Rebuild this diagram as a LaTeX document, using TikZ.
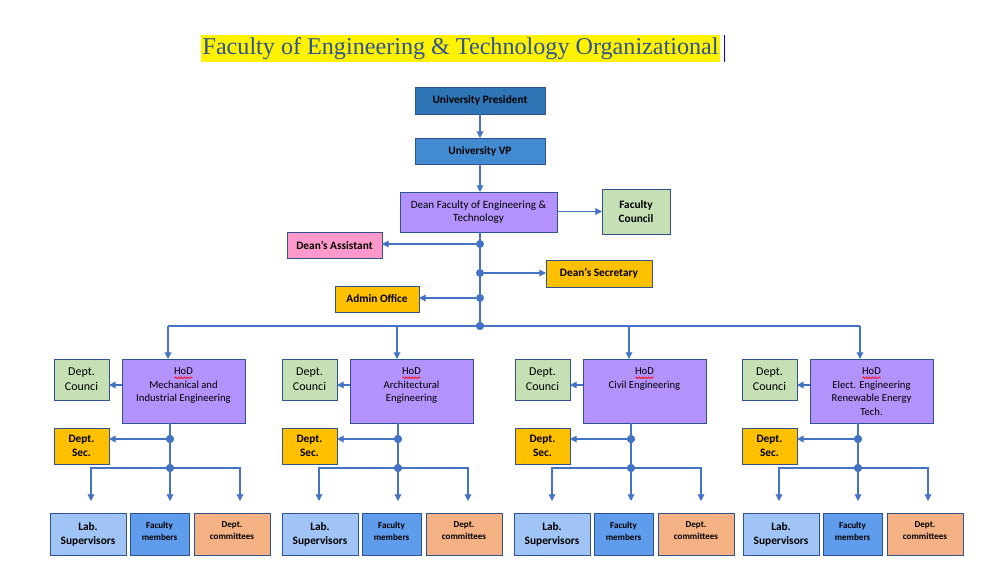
\documentclass[tikz,border=0pt]{standalone}
\usepackage{fontspec}
\setmainfont{Liberation Serif}
\setsansfont{Carlito}
\usetikzlibrary{arrows.meta,decorations.pathmorphing,calc}
\definecolor{bordc}{HTML}{2F528F}
\definecolor{linec}{HTML}{4472C4}
\definecolor{presc}{HTML}{2E75B6}
\definecolor{vpc}{HTML}{428BD0}
\definecolor{purp}{HTML}{B392FC}
\definecolor{pinkc}{HTML}{FF99CC}
\definecolor{orangec}{HTML}{FFC000}
\definecolor{greenc}{HTML}{C5E0B4}
\definecolor{labc}{HTML}{A0C4F5}
\definecolor{facc}{HTML}{5F9CEB}
\definecolor{comc}{HTML}{F4B183}
\definecolor{titlec}{HTML}{2F5496}
\newcommand\bx[7]{\node[#6, minimum width={0.75pt*((#4)-(#2))}, minimum height={0.75pt*((#5)-(#3))}] (#1) at ({((#2)+(#4))/2},{((#3)+(#5))/2}) {#7};}
\tikzset{
  box/.style={draw=bordc, line width=0.65pt, inner sep=1pt, outer sep=0pt, align=center, text=black, font=\sffamily\fontsize{8.3}{10}\selectfont},
  bbox/.style={box, font=\sffamily\bfseries\fontsize{8.5}{10.5}\selectfont},
  sbox/.style={box, font=\sffamily\bfseries\fontsize{6.8}{9}\selectfont},
  cbox/.style={box, font=\sffamily\fontsize{9}{11}\selectfont},
  txt/.style={align=center, inner sep=0pt, font=\sffamily\fontsize{8}{10.1}\selectfont},
  ln/.style={draw=linec, line width=0.9pt},
  arr/.style={ln, -{Triangle[length=5pt,width=5pt]}},
  dot/.style={circle, fill=linec, inner sep=0pt, minimum size=6pt},
  squig/.style={draw=red, line width=0.5pt, decorate, decoration={snake, segment length=2.3pt, amplitude=0.65pt}}
}
\begin{document}
\begin{tikzpicture}[x=0.75pt,y=-0.75pt]
\path[fill=white] (0,0) rectangle (981,571);
\useasboundingbox (0,0) rectangle (981,571);
% title
\node[fill=yellow, inner xsep=1pt, inner ysep=0pt, minimum height=20.25pt, anchor=west, text=titlec, font=\fontsize{18.1}{21}\selectfont] (title) at (201,48.5) {Faculty of Engineering \& Technology Organizational};
\draw[blue, line width=0.6pt] ([xshift=3pt]title.north east) -- ([xshift=3pt]title.south east);
% top
\bx{pres}{415}{87}{545}{114}{bbox,fill=presc}{University President}
\bx{vp}{415}{138}{545}{164}{bbox,fill=vpc}{University VP}
\bx{dean}{400}{192}{557}{232}{box,fill=purp}{Dean Faculty of Engineering \&\\Technology}
\bx{fc}{602}{189}{670}{234}{bbox,fill=greenc}{Faculty\\Council}
\bx{asst}{287}{232}{382}{258}{bbox,fill=pinkc}{Dean’s Assistant}
\bx{sec}{546}{260}{652}{287}{bbox,fill=orangec}{Dean’s Secretary}
\bx{adm}{335}{286}{419}{312}{bbox,fill=orangec}{Admin Office}
\node[dot] (d1) at (480,244) {};
\node[dot] (d2) at (480,273) {};
\node[dot] (d3) at (480,298) {};
\node[dot] (d4) at (480,326) {};
\draw[arr] (pres) -- (vp);
\draw[arr] (vp) -- (vp |- dean.north);
\draw[arr] (dean.east |- fc) -- (fc);
\draw[ln] (d4 |- dean.south) -- (d4);
\draw[arr] (d1) -- (d1 -| asst.east);
\draw[arr] (d2) -- (d2 -| sec.west);
\draw[arr] (d3) -- (d3 -| adm.east);
% departments
\foreach \L/\A/\B/\T [count=\i] in {170/168/-4/{Mechanical and\\Industrial Engineering},398/397/0/{Architectural\\Engineering},631/629/-1/{Civil Engineering},858/860/1/{Elect. Engineering\\Renewable Energy\\Tech.}}{
  \bx{hod\i}{\L-48}{359}{\L+75}{423}{box,fill=purp}{}
  \node[txt, anchor=north] (ht\i) at ([yshift=-6.5pt]hod\i.north) {HoD\\\T};
  \draw[squig] ([xshift=-6.8pt,yshift=-7.6pt]ht\i.north) -- ([xshift=6.8pt,yshift=-7.6pt]ht\i.north);
  \bx{dc\i}{\L-116}{359}{\L-61}{400}{cbox,fill=greenc}{Dept.\\Counci}
  \bx{ds\i}{\L-116}{428}{\L-61}{464}{bbox,fill=orangec}{Dept.\\Sec.}
  \coordinate (tk\i) at (\A,326);
  \draw[arr] (tk\i) -- (tk\i |- hod\i.north);
  \coordinate (hw\i) at (\L-48,385);
  \draw[arr] (hw\i) -- (hw\i -| dc\i.east);
  \node[dot] (a\i) at (\L,439) {};
  \node[dot] (b\i) at (\L,468) {};
  \draw[ln] (a\i |- hod\i.south) -- (b\i);
  \draw[arr] (a\i) -- (a\i -| ds\i.east);
  \coordinate (el\i) at (\L-79,501);
  \coordinate (em\i) at (\L,501);
  \coordinate (er\i) at (\L+70,501);
  \draw[arr] (b\i) -| (el\i);
  \draw[arr] (b\i) -- (em\i);
  \draw[arr] (b\i) -| (er\i);
  \fill[linec] (a\i) circle (3pt);
  \fill[linec] (b\i) circle (3pt);
  \bx{lab\i}{\L+\B-116}{513}{\L+\B-40}{555}{bbox,fill=labc}{Lab.\\Supervisors}
  \bx{fac\i}{\L+\B-36}{513}{\L+\B+23}{555}{sbox,fill=facc}{Faculty\\members\\[-4.5pt]}
  \bx{com\i}{\L+\B+28}{513}{\L+\B+104}{555}{sbox,fill=comc}{Dept.\\committees\\[-4.5pt]}
}
\draw[ln] (tk1) -- (tk4);
\fill[linec] (d4) circle (3pt);
\end{tikzpicture}
\end{document}
